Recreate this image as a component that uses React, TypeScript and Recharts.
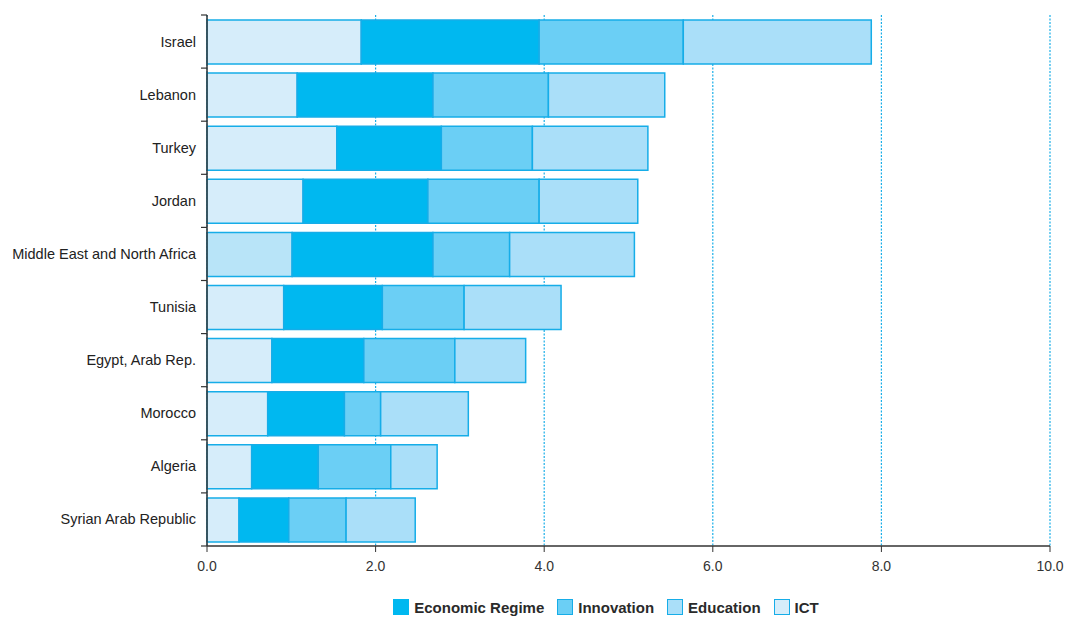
import React from 'react'
import {
  BarChart, Bar, XAxis, YAxis, CartesianGrid, Legend, Cell,
} from 'recharts'

const countries = [
  'Israel', 'Lebanon', 'Turkey', 'Jordan', 'Middle East and North Africa',
  'Tunisia', 'Egypt, Arab Rep.', 'Morocco', 'Algeria', 'Syrian Arab Republic',
]
const ict      = [1.83, 1.07, 1.54, 1.14, 1.01, 0.91, 0.77, 0.72, 0.53, 0.38]
const economic = [2.11, 1.61, 1.24, 1.48, 1.67, 1.17, 1.09, 0.91, 0.79, 0.59]
const innov    = [1.71, 1.37, 1.08, 1.32, 0.91, 0.97, 1.08, 0.43, 0.86, 0.68]
const educ     = [2.23, 1.38, 1.37, 1.17, 1.48, 1.15, 0.84, 1.04, 0.55, 0.82]
const xTicks = [0, 2, 4, 6, 8, 10]

const series = [
  { key: 'economic', label: 'Economic Regime', fill: '#00b8f0' },
  { key: 'innov', label: 'Innovation', fill: '#6bcff5' },
  { key: 'educ', label: 'Education', fill: '#aadff9' },
  { key: 'ict', label: 'ICT', fill: '#d6edfa' },
]

const data = countries.map((name, i) => ({
  name, ict: ict[i], economic: economic[i], innov: innov[i], educ: educ[i],
}))

const STROKE = '#16ade8'
const TOP = 15
const PLOT_H = 531
const BAND = PLOT_H / countries.length

const YTick = (props: any) => {
  const { x, y, payload, index } = props
  const ax = 207
  return (
    <g>
      <line x1={ax - 6} x2={ax} y1={y - BAND / 2} y2={y - BAND / 2} stroke="#333" strokeWidth={1.2} />
      {index === countries.length - 1 && (
        <line x1={ax - 6} x2={ax} y1={y + BAND / 2} y2={y + BAND / 2} stroke="#333" strokeWidth={1.2} />
      )}
      <text x={x} y={y} dy={5} textAnchor="end" fontSize={14.5} fill="#222">
        {payload.value}
      </text>
    </g>
  )
}

const renderLegend = () => (
  <div style={{ display: 'flex', justifyContent: 'center', alignItems: 'center', paddingLeft: 162, height: 24 }}>
    {series.map((s, i) => (
      <div key={s.key} style={{ display: 'flex', alignItems: 'center', marginRight: i === series.length - 1 ? 0 : 13 }}>
        <span style={{
          display: 'inline-block', width: 14, height: 14, background: s.fill,
          border: s.key === 'economic' ? `1px solid ${s.fill}` : `1px solid ${STROKE}`, marginRight: 5,
        }} />
        <span style={{ fontSize: 15, fontWeight: 600, color: '#2a2a2a' }}>{s.label}</span>
      </div>
    ))}
  </div>
)

export default function App() {
  return (
    <div style={{ position: 'absolute', left: 0, top: 0, fontFamily: '"Liberation Sans", Arial, sans-serif' }}>
      <BarChart
        width={1066}
        height={625}
        data={data}
        layout="vertical"
        barSize={44}
        margin={{ top: TOP, right: 16, left: 0, bottom: 6 }}
      >
        <CartesianGrid horizontal={false} strokeDasharray="2 1.5" stroke="#1aaee8" strokeWidth={1.2} />
        <XAxis
          type="number"
          domain={[0, 10]}
          ticks={xTicks}
          tickFormatter={(v: number) => v.toFixed(1)}
          height={49}
          stroke="#333"
          tick={{ fontSize: 14, fill: '#333' }}
          tickSize={6}
          tickMargin={9}
          axisLine={{ stroke: '#333', strokeWidth: 1.5 }}
        />
        <YAxis
          type="category"
          dataKey="name"
          width={207}
          tickLine={false}
          tickSize={0}
          tickMargin={11}
          axisLine={{ stroke: '#333', strokeWidth: 1.5 }}
          tick={<YTick />}
          interval={0}
        />
        <Legend verticalAlign="bottom" content={renderLegend} wrapperStyle={{ height: 24 }} />
        <Bar dataKey="ict" stackId="a" fill="#d6edfa" stroke={STROKE} strokeWidth={1.5} isAnimationActive={false}>
          {data.map((d, i) => (
            <Cell key={i} fill={d.name === 'Middle East and North Africa' ? '#b8e4f8' : '#d6edfa'} />
          ))}
        </Bar>
        <Bar dataKey="economic" stackId="a" fill="#00b8f0" stroke={STROKE} strokeWidth={1.5} isAnimationActive={false} />
        <Bar dataKey="innov" stackId="a" fill="#6bcff5" stroke={STROKE} strokeWidth={1.5} isAnimationActive={false} />
        <Bar dataKey="educ" stackId="a" fill="#aadff9" stroke={STROKE} strokeWidth={1.5} isAnimationActive={false} />
      </BarChart>
    </div>
  )
}
